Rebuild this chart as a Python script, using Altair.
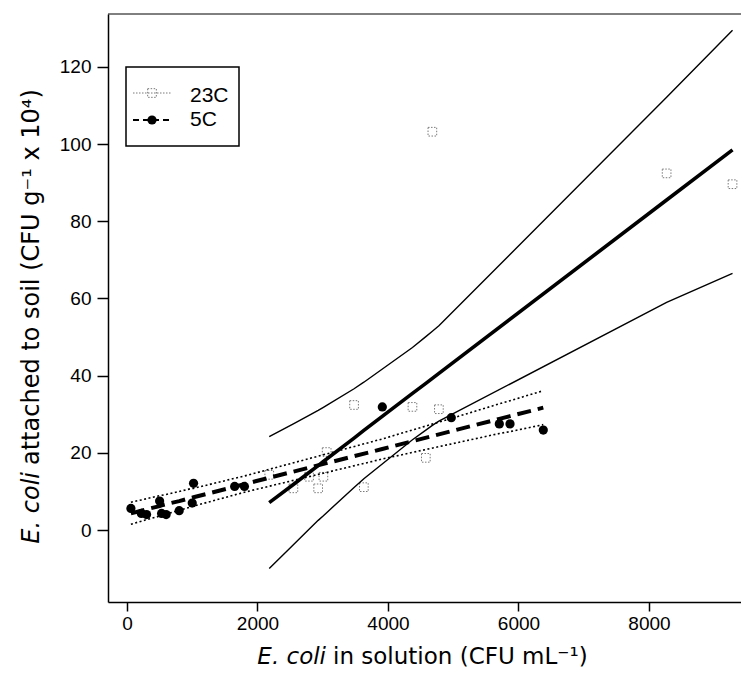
import altair as alt
import pandas as pd

# ---------------- data ----------------
# 23C (open squares)
x23 = [2180, 2550, 2790, 2930, 3010, 3060, 3480, 3630, 4375, 4580, 4680, 4780, 8270, 9280]
y23 = [14.3, 10.8, 13.8, 10.8, 13.8, 20.2, 32.4, 11.1, 31.9, 18.7, 103.2, 31.3, 92.4, 89.6]
# 23C regression line and 95% band, read at the data x positions
fit23 = [7.1, 11.8, 14.9, 16.7, 17.8, 18.4, 23.8, 25.8, 35.4, 38.0, 39.3, 40.6, 85.5, 98.5]
lo23 = [-10.0, -3.8, 0.2, 2.5, 3.7, 4.5, 11.0, 13.3, 23.4, 25.9, 27.1, 28.2, 59.0, 66.5]
hi23 = [24.2, 27.5, 29.7, 31.0, 31.8, 32.3, 36.6, 38.3, 47.3, 50.1, 51.5, 52.9, 112.1, 129.5]

# 5C (filled circles)
x5 = [60, 220, 300, 500, 530, 600, 800, 1000, 1020, 1650, 1800, 3913, 4970, 5706, 5870, 6380]
y5 = [5.6, 4.3, 4.0, 7.5, 4.3, 4.0, 5.0, 7.0, 12.1, 11.3, 11.3, 31.9, 29.1, 27.5, 27.5, 25.9]
fit5 = [4.3, 5.0, 5.4, 6.2, 6.4, 6.7, 7.5, 8.4, 8.5, 11.2, 11.9, 21.0, 25.6, 28.8, 29.5, 31.7]
lo5 = [1.5, 2.3, 2.7, 3.6, 3.8, 4.1, 5.1, 6.1, 6.2, 9.1, 9.8, 18.4, 22.3, 25.0, 25.5, 27.3]
hi5 = [7.2, 7.8, 8.1, 8.9, 9.0, 9.2, 10.0, 10.8, 10.8, 13.4, 14.0, 23.6, 28.9, 32.7, 33.5, 36.1]

xticks = [0, 2000, 4000, 6000, 8000]
yticks = [0, 20, 40, 60, 80, 100, 120]
legend_labels = ["23C", "5C"]

# ---------------- chart ----------------
W, H = 633, 588
df23 = pd.DataFrame({"x": x23, "y": y23, "fit": fit23, "lo": lo23, "hi": hi23})
df5 = pd.DataFrame({"x": x5, "y": y5, "fit": fit5, "lo": lo5, "hi": hi5})

xs = alt.Scale(domain=[-291, 9410], nice=False, zero=False)
ys = alt.Scale(domain=[-18.65, 133.7], nice=False, zero=False)
xaxis = alt.Axis(values=xticks, format="d", grid=False, tickSize=9, labelPadding=3)
yaxis = alt.Axis(values=yticks, format="d", grid=False, tickSize=11, labelPadding=6)


def X():
    return alt.X("x:Q", scale=xs, axis=xaxis, title=None)


def Y(f):
    return alt.Y(f"{f}:Q", scale=ys, axis=yaxis, title=None)


sq23 = alt.Chart(df23).mark_point(
    shape="square", filled=False, color="#7a7a7a", strokeWidth=1,
    strokeDash=[1.5, 1.5], size=75, opacity=1
).encode(x=X(), y=Y("y"))

hi23_l = alt.Chart(df23).mark_line(color="black", strokeWidth=1.4).encode(x=X(), y=Y("hi"))
lo23_l = alt.Chart(df23).mark_line(color="black", strokeWidth=1.4).encode(x=X(), y=Y("lo"))
fit23_l = alt.Chart(df23).mark_line(color="black", strokeWidth=3.6).encode(x=X(), y=Y("fit"))

hi5_l = alt.Chart(df5).mark_line(color="black", strokeWidth=1.6, strokeDash=[2, 2.5]).encode(x=X(), y=Y("hi"))
lo5_l = alt.Chart(df5).mark_line(color="black", strokeWidth=1.6, strokeDash=[2, 2.5]).encode(x=X(), y=Y("lo"))
fit5_l = alt.Chart(df5).mark_line(color="black", strokeWidth=4, strokeDash=[14, 7]).encode(x=X(), y=Y("fit"))

pt5 = alt.Chart(df5).mark_circle(color="black", size=85, opacity=1).encode(x=X(), y=Y("y"))

# top frame line
top = alt.Chart(pd.DataFrame({"a": [0]})).mark_rule(color="black", strokeWidth=1).encode(
    x=alt.value(0), x2=alt.value(W), y=alt.value(0))

# legend
one = pd.DataFrame({"label": legend_labels})
lg_box = alt.Chart(pd.DataFrame({"a": [0]})).mark_rect(
    fill="white", stroke="black", strokeWidth=1.5).encode(
    x=alt.value(18), x2=alt.value(131), y=alt.value(53), y2=alt.value(132))
lg_l23 = alt.Chart(pd.DataFrame({"a": [0]})).mark_rule(
    color="#7a7a7a", strokeWidth=1, strokeDash=[1.5, 1.5]).encode(
    x=alt.value(25), x2=alt.value(64), y=alt.value(79))
lg_s23 = alt.Chart(pd.DataFrame({"a": [0]})).mark_point(
    shape="square", filled=False, color="#7a7a7a", strokeWidth=1, strokeDash=[1.5, 1.5],
    size=75, opacity=1).encode(x=alt.value(44), y=alt.value(79))
lg_l5 = alt.Chart(pd.DataFrame({"a": [0]})).mark_rule(
    color="black", strokeWidth=2, strokeDash=[6, 4]).encode(
    x=alt.value(25), x2=alt.value(64), y=alt.value(106))
lg_c5 = alt.Chart(pd.DataFrame({"a": [0]})).mark_circle(
    color="black", size=85, opacity=1).encode(x=alt.value(44), y=alt.value(106))
lg_t1 = alt.Chart(one.iloc[[0]]).mark_text(
    align="left", baseline="alphabetic", font="Liberation Sans", fontSize=21, color="black").encode(
    x=alt.value(82), y=alt.value(88), text="label:N")
lg_t2 = alt.Chart(one.iloc[[1]]).mark_text(
    align="left", baseline="alphabetic", font="Liberation Sans", fontSize=21, color="black").encode(
    x=alt.value(82), y=alt.value(112), text="label:N")

# axis titles (mixed italic / upright)
TF = "DejaVu Sans"
TS = 23
t = pd.DataFrame({"a": [0]})
xt1 = alt.Chart(t).mark_text(text="E. coli", fontStyle="italic", font=TF, fontSize=TS,
                             align="right", baseline="alphabetic", color="black").encode(
    x=alt.value(218), y=alt.value(650))
xt2 = alt.Chart(t).mark_text(text="in solution (CFU mL\u207b\u00b9)", font=TF, fontSize=TS,
                             align="left", baseline="alphabetic", color="black").encode(
    x=alt.value(225), y=alt.value(650))
yt1 = alt.Chart(t).mark_text(text="E. coli", fontStyle="italic", font=TF, fontSize=24, angle=270,
                             align="right", baseline="alphabetic", color="black").encode(
    x=alt.value(-69), y=alt.value(458))
yt2 = alt.Chart(t).mark_text(text="attached to soil (CFU g\u207b\u00b9 x 10\u2074)", font=TF, fontSize=24,
                             angle=270, align="left", baseline="alphabetic", color="black").encode(
    x=alt.value(-69), y=alt.value(451))

chart = alt.layer(
    sq23, hi23_l, lo23_l, fit23_l, hi5_l, lo5_l, fit5_l, pt5, top,
    lg_box, lg_l23, lg_s23, lg_l5, lg_c5, lg_t1, lg_t2,
    xt1, xt2, yt1, yt2
).properties(
    width=W, height=H,
    autosize=alt.AutoSizeParams(type="none"),
    padding={"left": 100, "top": 6, "right": 0, "bottom": 70},
).configure_view(stroke=None).configure_axis(
    domainColor="black", domainWidth=1.5, tickColor="black", tickWidth=1.5,
    labelFont="Liberation Sans", labelFontSize=19, labelColor="black",
)

chart.save("out.html", embed_options={"renderer": "svg", "actions": False})
